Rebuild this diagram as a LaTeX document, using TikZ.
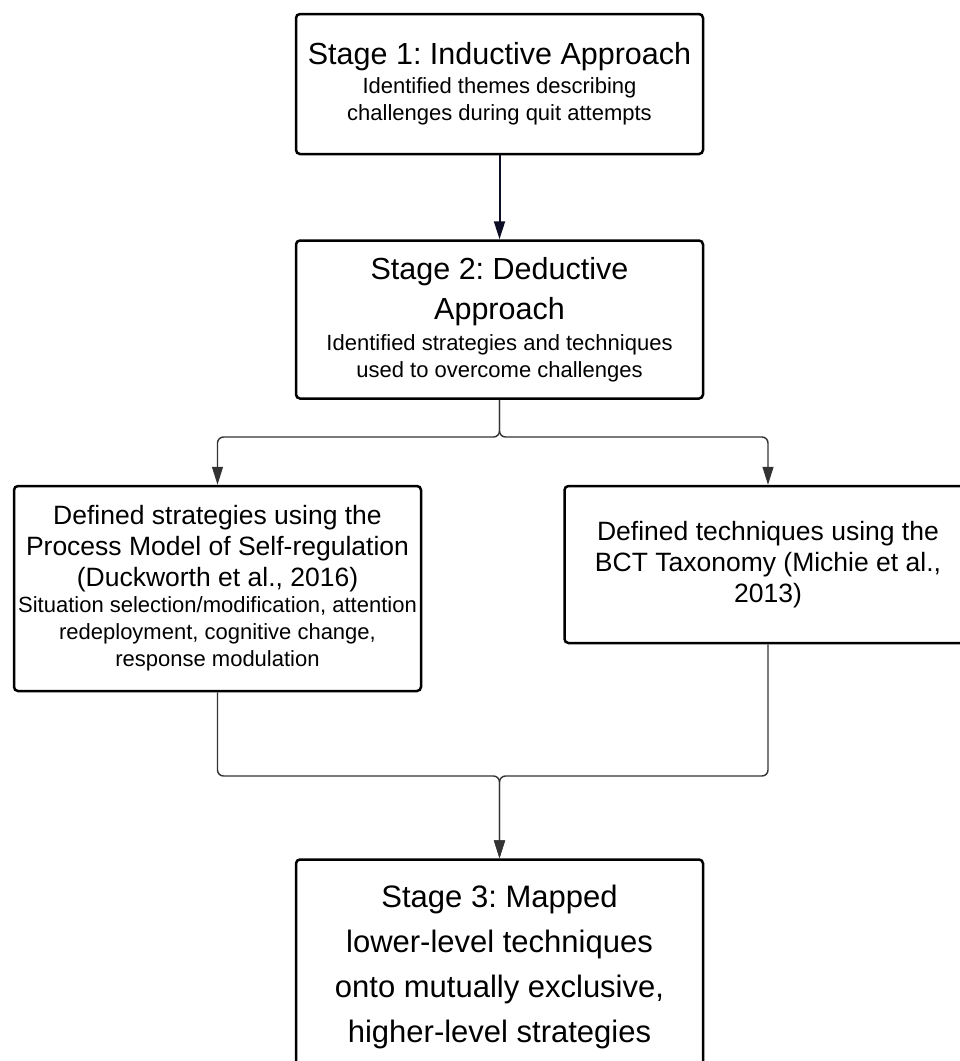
\documentclass[tikz,border=0pt]{standalone}
\usepackage{fontspec}
\setmainfont{Liberation Sans}
\usepackage{tikz}
\usetikzlibrary{arrows.meta,positioning}
\definecolor{boxline}{HTML}{000000}
\definecolor{arrowink}{HTML}{0D0D26}
\definecolor{branchink}{HTML}{333333}
\newcommand{\titlefont}{\fontsize{30.5}{39}\selectfont}
\newcommand{\midfont}{\fontsize{26.5}{31}\selectfont}
\newcommand{\subfont}{\fontsize{22}{27}\selectfont}
\frenchspacing
\tikzset{
  stagebox/.style={
    draw=boxline, line width=2.5pt, rounded corners=4pt,
    minimum width=407pt, align=center, inner sep=4pt,
  },
  arrow/.style={-{Triangle[length=18pt,width=11pt]}, line width=2pt, color=arrowink},
  branch/.style={-{Triangle[length=18pt,width=11pt]}, line width=1.4pt, color=branchink, rounded corners=6pt},
}

\begin{document}
\begin{tikzpicture}[x=1pt,y=-1pt]

  \useasboundingbox (0,0) rectangle (960,1061);

  \node[stagebox, minimum height=140pt, font=\subfont] (stage1) at (499.5,84)
    {{\titlefont Stage 1: Inductive Approach}\\[2pt]
     Identified themes describing\\
     challenges during quit attempts};

  \node[stagebox, minimum height=158pt, font=\subfont,
        below=84pt of stage1] (stage2)
    {{\titlefont Stage 2: Deductive}\\[11pt]
     {\titlefont Approach}\\[4pt]
     Identified strategies and techniques\\
     used to overcome challenges};

  \node[stagebox, minimum height=205pt, font=\subfont,
        below=85pt of stage2, xshift=-282pt] (strat)
    {{\midfont Defined strategies using the}\\[4pt]
     {\midfont Process Model of Self-regulation}\\[4pt]
     {\midfont (Duckworth et al., 2016)}\\[-1pt]
     Situation selection/modification, attention\\
     redeployment, cognitive change,\\
     response modulation};

  \node[stagebox, minimum height=157pt, font=\midfont,
        below=85pt of stage2, xshift=268.5pt] (tech)
    {Defined techniques using the\\
     BCT Taxonomy (Michie et al.,\\
     2013)};

  \node[stagebox, minimum height=215pt, font=\fontsize{31}{45}\selectfont,
        below=166pt of strat, xshift=282pt] (stage3)
    {Stage 3: Mapped\\
     lower-level techniques\\
     onto mutually exclusive,\\
     higher-level strategies};

  \coordinate (split) at (499.5,437);
  \coordinate (merge) at (499.5,776);

  \draw[arrow] (stage1) -- (stage2);
  \draw[branch] (stage2.south) -- (split) -| (strat.north);
  \draw[branch] (stage2.south) -- (split) -| (tech.north);
  \draw[branch] (strat.south) |- (merge) -- (stage3.north);
  \draw[branch] (tech.south) |- (merge) -- (stage3.north);

\end{tikzpicture}
\end{document}
